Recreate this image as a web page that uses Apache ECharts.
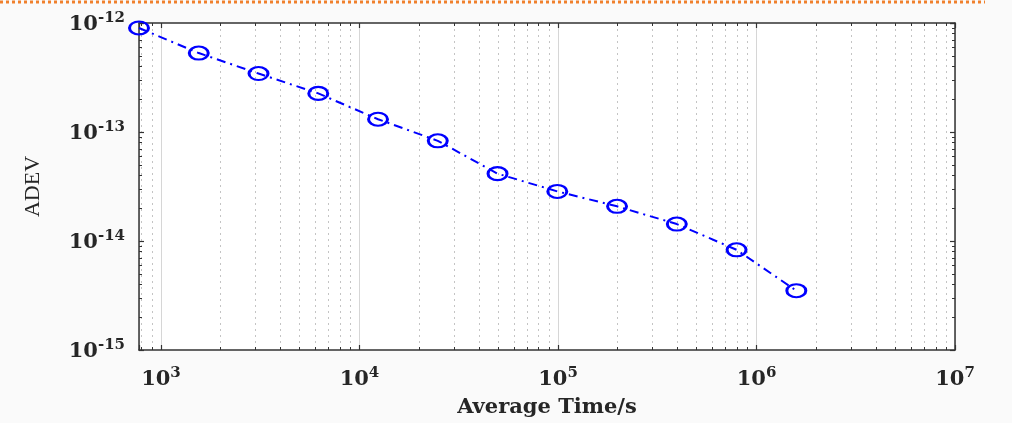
<!DOCTYPE html>
<html>
<head>
<meta charset="utf-8">
<script src="https://cdn.jsdelivr.net/npm/echarts@6/dist/echarts.min.js"></script>
<style>
  html, body { margin: 0; padding: 0; background: #fafafa; }
  #chart { width: 1012px; height: 423px; }
</style>
</head>
<body>
<div id="chart"></div>
<script>
// averaging times (s) and Allan deviation
const tau = [775, 1550, 3100, 6200, 12400, 24800, 49600, 99200, 198400, 396800, 793600, 1587200];
const adev = [9.0e-13, 5.3e-13, 3.44e-13, 2.26e-13, 1.31e-13, 8.3e-14, 4.15e-14, 2.85e-14, 2.08e-14, 1.43e-14, 8.3e-15, 3.5e-15];

const serif = "DejaVu Serif";
const textColor = "#262626";

const chart = echarts.init(document.getElementById("chart"));

//  10^n 标签
function powLabel(v) {
  const e = Math.log10(v);
  if (Math.abs(e - Math.round(e)) > 1e-6) return "";
  return "{b|10}{s|" + Math.round(e) + "}";
}
const labelRich = {
  b: { fontFamily: serif, fontSize: 21, fontWeight: "bold", color: textColor, verticalAlign: "bottom" },
  s: { fontFamily: serif, fontSize: 15, fontWeight: "bold", color: textColor, verticalAlign: "bottom", padding: [0, 0, 9, 0] },
};

const axisLine = { show: true, lineStyle: { color: "#333", width: 1.5 } };
const tick = { show: true, inside: true, length: 5, lineStyle: { color: "#333", width: 1.2 } };
const minorTick = { show: true, splitNumber: 9, length: 3, lineStyle: { color: "#333", width: 1 } };

const option = {
  animation: false,
  backgroundColor: "#fafafa",
  grid: { left: 139, right: 57, top: 23, bottom: 70, show: true, backgroundColor: "#fff", borderWidth: 0 },
  graphic: [
    {
      type: "line",
      shape: { x1: 0, y1: 2, x2: 985, y2: 2 },
      style: { stroke: "#f0802c", lineWidth: 3, lineDash: [3, 3] },
    },
  ],
  xAxis: [
    {
      type: "log",
      logBase: 10,
      min: 775,
      max: 1e7,
      name: "Average Time/s",
      nameLocation: "middle",
      nameGap: 47,
      nameTextStyle: { fontFamily: serif, fontSize: 21, fontWeight: "bold", color: textColor },
      axisLine: axisLine,
      axisTick: tick,
      minorTick: minorTick,
      splitLine: { show: true, lineStyle: { color: "#d6d6d6", width: 1 } },
      minorSplitLine: { show: true, lineStyle: { color: "#c4c4c4", width: 1, type: [2, 4] } },
      axisLabel: { formatter: powLabel, margin: 16, rich: labelRich, showMinLabel: false },
    },
    {
      type: "log",
      logBase: 10,
      min: 775,
      max: 1e7,
      position: "top",
      axisLine: axisLine,
      axisTick: tick,
      minorTick: minorTick,
      splitLine: { show: false },
      axisLabel: { show: false },
    },
  ],
  yAxis: [
    {
      type: "log",
      logBase: 10,
      min: 1e-15,
      max: 1e-12,
      name: "ADEV",
      nameLocation: "middle",
      nameGap: 95,
      nameTextStyle: { fontFamily: "Liberation Serif", fontSize: 22, color: textColor },
      axisLine: axisLine,
      axisTick: tick,
      minorTick: minorTick,
      splitLine: { show: false },
      axisLabel: { formatter: powLabel, margin: 14, rich: labelRich },
    },
    {
      type: "log",
      logBase: 10,
      min: 1e-15,
      max: 1e-12,
      position: "right",
      axisLine: axisLine,
      axisTick: tick,
      minorTick: minorTick,
      splitLine: { show: false },
      axisLabel: { show: false },
    },
  ],
  series: [
    {
      type: "line",
      data: tau.map((t, i) => [t, adev[i]]),
      symbol: "circle",
      symbolSize: [19, 13],
      showAllSymbol: true,
      lineStyle: { color: "#0000ff", width: 2, type: [9, 5, 2, 5] },
      itemStyle: { color: "rgba(0,0,0,0)", borderColor: "#0000ff", borderWidth: 2.5 },
      z: 5,
    },
  ],
};
chart.setOption(option);
</script>
</body>
</html>
